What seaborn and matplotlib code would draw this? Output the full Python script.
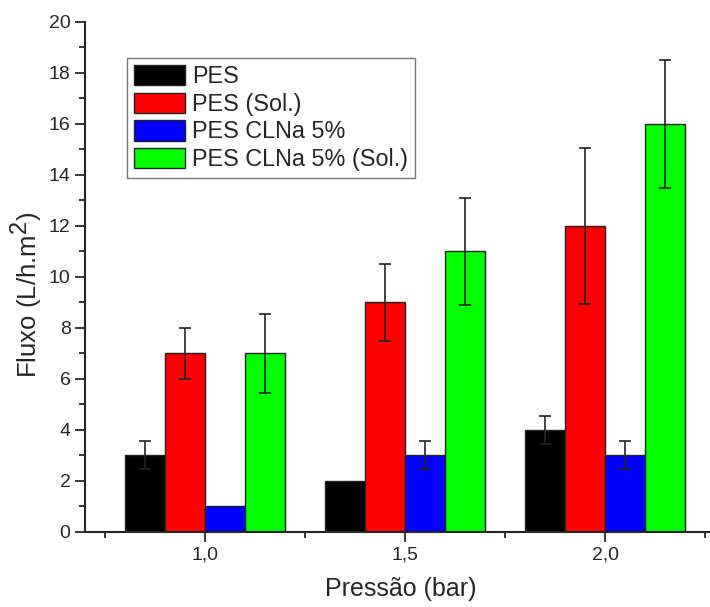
import numpy as np
import pandas as pd
import seaborn as sns
import matplotlib
matplotlib.use("Agg")
import matplotlib.pyplot as plt
import matplotlib._mathtext as mathtext_int
from matplotlib.ticker import MultipleLocator, FixedLocator

pressoes = ["1,0", "1,5", "2,0"]
series = ["PES", "PES (Sol.)", "PES CLNa 5%", "PES CLNa 5% (Sol.)"]
pes = [3, 2, 4]
pes_sol = [7, 9, 12]
pes_clna = [1, 3, 3]
pes_clna_sol = [7, 11, 16]
err_pes = [0.55, 0, 0.55]
err_pes_sol = [1.0, 1.5, 3.05]
err_pes_clna = [0, 0.55, 0.55]
err_pes_clna_sol = [1.55, 2.1, 2.5]
cores = ["#000000", "#ff0000", "#0000ff", "#00ff00"]

valores = [pes, pes_sol, pes_clna, pes_clna_sol]
erros = [err_pes, err_pes_sol, err_pes_clna, err_pes_clna_sol]

df = pd.DataFrame({
    "pressao": np.tile(pressoes, len(series)),
    "serie": np.repeat(series, len(pressoes)),
    "fluxo": np.concatenate(valores),
})

sns.set_style("ticks")
plt.rcParams['font.family'] = ['Liberation Sans', 'DejaVu Sans']
plt.rcParams['mathtext.fontset'] = 'custom'
plt.rcParams['mathtext.rm'] = 'Liberation Sans'
plt.rcParams['mathtext.it'] = 'Liberation Sans'
# expoente grande como no original
mathtext_int.SHRINK_FACTOR = 0.92

fig = plt.figure(figsize=(7.1, 6.07), dpi=100)
ax = fig.add_axes([0.12, 0.1236, 0.89, 0.8407])

sns.barplot(data=df, x="pressao", y="fluxo", hue="serie", order=pressoes,
            hue_order=series, palette=cores, width=0.8, edgecolor="#222222",
            linewidth=1.0, saturation=1, errorbar=None, ax=ax)

# barras de erro
larg = 0.2
for j, (v, e) in enumerate(zip(valores, erros)):
    xs = np.arange(len(pressoes)) + (j - 1.5) * larg
    for x, yv, ee in zip(xs, v, e):
        if ee > 0:
            ax.errorbar(x, yv, yerr=ee, fmt="none", ecolor="#222222",
                        elinewidth=1.2, capsize=4, capthick=1.2)

ax.set_xlim(-0.6, 2.56)
ax.set_ylim(0, 20)
ax.yaxis.set_major_locator(MultipleLocator(2))
ax.yaxis.set_minor_locator(MultipleLocator(1))
ax.xaxis.set_minor_locator(FixedLocator([-0.5, 0.5, 1.5, 2.5]))
ax.tick_params(axis="both", which="major", length=7, width=1.3, labelsize=14, direction="out")
ax.tick_params(axis="both", which="minor", length=4, width=1.3, direction="out")
for s in ["left", "bottom"]:
    ax.spines[s].set_linewidth(1.5)
ax.spines["top"].set_visible(False)
ax.spines["right"].set_visible(False)

ax.set_xlabel("Pressão (bar)", fontsize=18, labelpad=10)
ax.set_ylabel("Fluxo (L/h.m$^2$)", fontsize=18.5)
ax.yaxis.set_label_coords(-0.063, 0.465)

leg = ax.legend(loc="upper left", bbox_to_anchor=(0.066, 0.929), fontsize=16.8,
                frameon=True, fancybox=False, edgecolor="#555555",
                handlelength=2.2, handleheight=0.95, handletextpad=0.3,
                labelspacing=0.2, borderpad=0.3, borderaxespad=0)
leg.get_frame().set_linewidth(1.0)
for h in leg.legend_handles:
    h.set_edgecolor("#222222")

fig.savefig("out.png", dpi=100)
